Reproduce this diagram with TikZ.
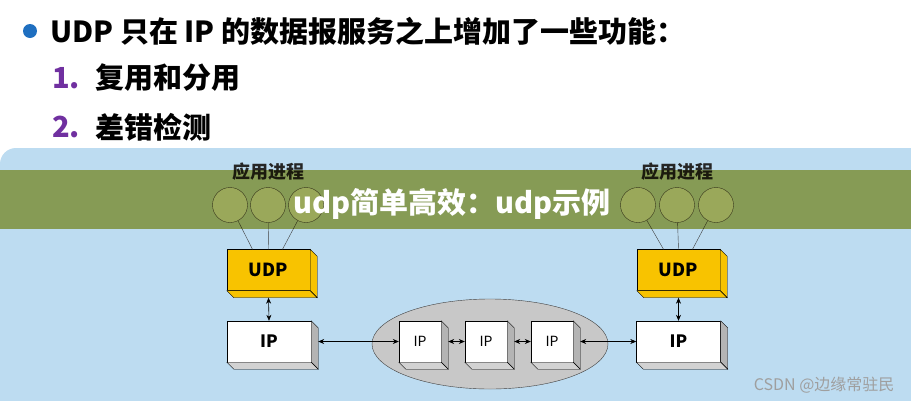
\documentclass[tikz,border=0pt]{standalone}
\usepackage{fontspec}
\setmainfont{Noto Sans CJK SC}
\usetikzlibrary{arrows,arrows.meta,shapes}
\definecolor{slideblue}{HTML}{BDDCF1}
\definecolor{udpyellow}{HTML}{F8C300}
\definecolor{cloudgray}{HTML}{C8C8C8}
\definecolor{sidegray}{HTML}{B4B4B4}
\definecolor{bottomgray}{HTML}{D2D2D2}
\definecolor{procfill}{HTML}{D8EEFF}
\definecolor{bannergreen}{HTML}{B6B45A}
\definecolor{itempurple}{HTML}{7030A0}
\definecolor{bulletblue}{HTML}{1F6FC0}
\tikzstyle{udpbox}=[draw,fill=udpyellow,minimum width=83pt,minimum height=41pt,inner sep=0pt,font=\fontsize{18}{18}\selectfont\bfseries]
\tikzstyle{ipbox}=[draw,fill=white,minimum width=84pt,minimum height=41pt,inner sep=0pt,font=\fontsize{17}{17}\selectfont\bfseries]
\tikzstyle{routerbox}=[draw,fill=white,minimum width=42pt,minimum height=41pt,inner sep=0pt,font=\fontsize{14}{14}\selectfont]
\tikzstyle{process}=[circle,draw=black!70,fill=procfill,minimum size=35pt,inner sep=0pt]
\tikzstyle{edge} = [draw,semithick,{Stealth[length=6pt,width=5pt]}-{Stealth[length=6pt,width=5pt]}]
\tikzstyle{link} = [draw,black!75]
\tikzstyle{bigtext} = [anchor=west,inner sep=0pt,font=\fontsize{29}{32}\selectfont\bfseries]

\begin{document}
\begin{tikzpicture}[x=1pt,y=-1pt]
    \useasboundingbox (0,0) rectangle (911,400);
    % Slide background
    \fill[white] (0,0) rectangle (911,400);
    \fill[slideblue, rounded corners=16pt] (0,148) rectangle (960,440);
    % Bullet text on top
    \fill[bulletblue] (30,31) circle (7pt);
    \node[bigtext] (title) at (50,31) {UDP 只在 IP 的数据报服务之上增加了一些功能：};
    \foreach \y/\num/\txt in {78/1/复用和分用, 127/2/差错检测} {
        \node[bigtext, text=itempurple] (num\num) at (52,\y) {\num.};
        \node[bigtext] (item\num) at (95,\y) {\txt};
    }
    % The network in the middle
    \node[ellipse, draw=black!75, fill=cloudgray, minimum width=236pt, minimum height=90pt] (cloud) at (490,344) {};
    % Then the boxes
    \foreach \pos/\name/\sty/\txt in {{(268.5,270)/udpA/udpbox/UDP}, {(678.5,270)/udpB/udpbox/UDP},
                                      {(269,341.5)/ipA/ipbox/IP}, {(678.5,341.5)/ipB/ipbox/IP},
                                      {(420,341.5)/r1/routerbox/IP}, {(486,341.5)/r2/routerbox/IP},
                                      {(552,341.5)/r3/routerbox/IP}}
        \node[\sty] (\name) at \pos {\txt};
    % 3D sides of the boxes
    \foreach \name/\side/\bottom in {udpA/udpyellow/udpyellow, udpB/udpyellow/udpyellow,
                                     ipA/sidegray/bottomgray, ipB/sidegray/bottomgray,
                                     r1/sidegray/bottomgray, r2/sidegray/bottomgray, r3/sidegray/bottomgray} {
        \filldraw[fill=\side] (\name.north east) -- ++(7,7) -- ([shift={(7,7)}]\name.south east) -- (\name.south east) -- cycle;
        \filldraw[fill=\bottom] (\name.south west) -- ++(7,7) -- ([shift={(7,7)}]\name.south east) -- (\name.south east) -- cycle;
    }
    % Arrows between layers and hops
    \foreach \source/\dest in {udpA/ipA, udpB/ipB}
        \path[edge] ([yshift=-7pt]\source.south) -- (\dest.north);
    \foreach \source/\dest in {ipA/r1, r1/r2, r2/r3, r3/ipB}
        \path[edge] ([xshift=7pt]\source.east) -- (\dest.west);
    % Application processes
    \foreach \x/\name in {230/pA1, 268/pA2, 306/pA3, 638/pB1, 677/pB2, 716/pB3}
        \node[process] (\name) at (\x,205) {};
    \foreach \source/\dest/\dx in {pA1/udpA/-16, pA2/udpA/0, pA3/udpA/14,
                                   pB1/udpB/-15, pB2/udpB/0, pB3/udpB/14}
        \path[link] (\source) -- ([xshift=\dx pt]\dest.north);
    \node[font=\fontsize{18}{18}\selectfont\bfseries, text=black!85] (labA) at (268,172) {应用进程};
    \node[font=\fontsize{18}{18}\selectfont\bfseries, text=black!85] (labB) at (677,172) {应用进程};
    % Watermark banner
    \begin{scope}[blend mode=multiply]
        \fill[bannergreen] (0,170) rectangle (911,229);
    \end{scope}
    \node[text=white, font=\fontsize{29}{31}\selectfont\bfseries] (banner) at (452,204) {udp简单高效：udp示例};
    \node[anchor=east, text=gray!75, font=\fontsize{16}{17}\selectfont] (mark) at (898,385) {CSDN @边缘常驻民};
\end{tikzpicture}
\end{document}
